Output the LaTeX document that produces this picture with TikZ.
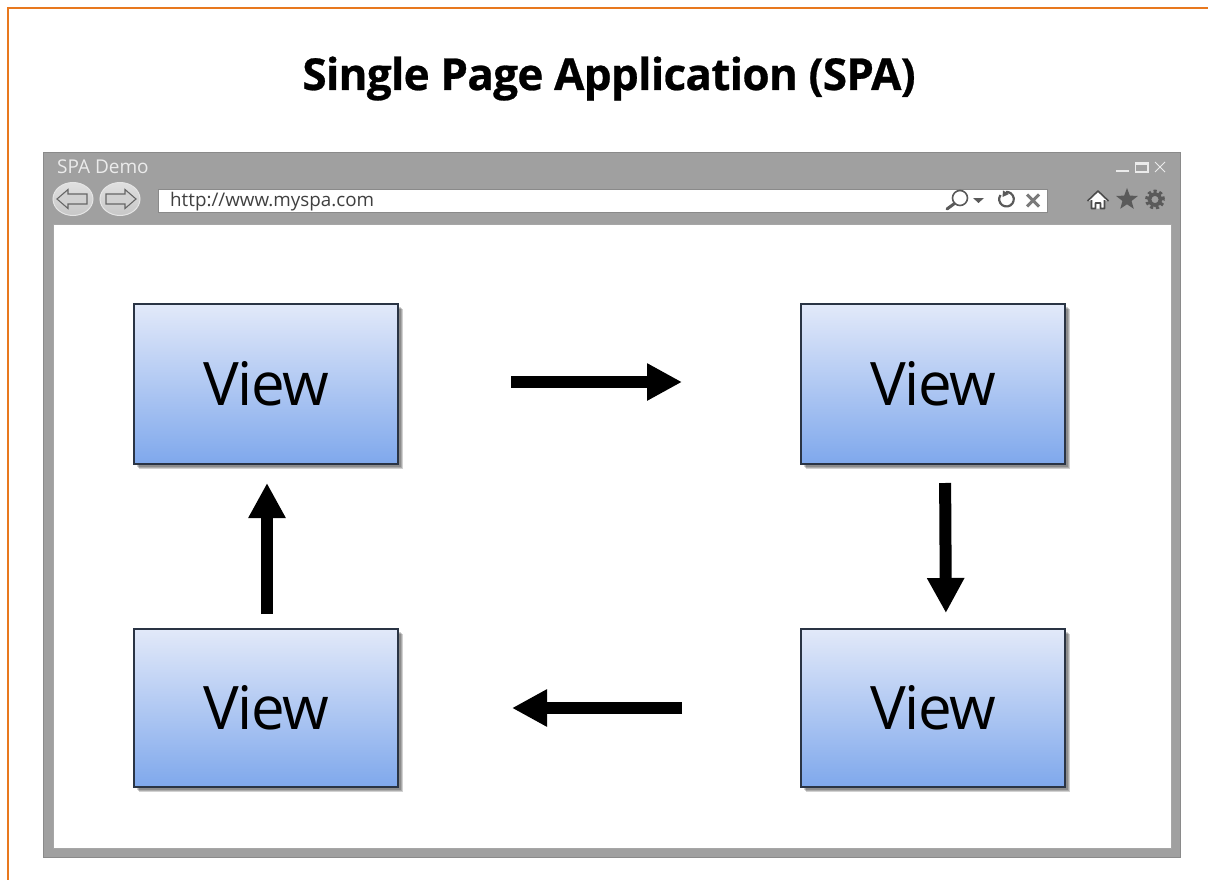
\documentclass[tikz,border=0pt]{standalone}
\usepackage{fontspec}
\setmainfont{Open Sans}
\usetikzlibrary{arrows.meta,shadows,shapes.geometric,calc}
\definecolor{frameorange}{HTML}{E8781E}
\definecolor{wingray}{HTML}{A0A0A0}
\definecolor{winedge}{HTML}{8A8A8A}
\definecolor{boxtop}{HTML}{E2E9F9}
\definecolor{boxbot}{HTML}{7FA8EC}
\definecolor{boxedge}{HTML}{2A3444}
\definecolor{icongray}{HTML}{5A5A5A}
\tikzset{
  softshadow/.style={general shadow={shadow xshift=#1pt,shadow yshift=-#1pt,fill=black,opacity=.18}},
  viewbox/.style={draw=boxedge,line width=1.7pt,outer sep=0pt,top color=boxtop,bottom color=boxbot,
    minimum width=264pt,anchor=north west,inner sep=0pt,text=black,
    font=\fontsize{60}{60}\selectfont\addfontfeature{LetterSpace=-2.5},
    softshadow=4.5,softshadow=3.5,softshadow=2.5},
  flow/.style={line width=12pt,black,-{Triangle[length=35pt,width=35pt]}},
  navbtn/.style={ellipse,minimum width=40pt,minimum height=33pt,inner sep=0pt,draw=white!90!black,line width=1pt,top color=white!88!black,bottom color=white!78!black},
  navarrow/.style={draw=black!60,line width=1.1pt,fill=white!82!black,line join=miter},
  wintext/.style={text=white!92!black,font=\fontsize{19}{19}\selectfont,inner sep=0pt,anchor=base west},
  ctrl/.style={draw=white!92!black,line width=1.6pt},
  tool/.style={draw=icongray,line width=2.6pt}
}
\begin{document}
\begin{tikzpicture}[x=1pt,y=-1pt]
\useasboundingbox (0,0) rectangle (1208,880);
\fill[white] (0,0) rectangle (1208,880);
% orange frame
\draw[frameorange,line width=2.6pt] (8,880) -- (8,8) -- (1208,8);
% title
\node[inner sep=0pt,anchor=base] (title) at (609,90) {\fontsize{44}{44}\selectfont\bfseries\addfontfeature{LetterSpace=-1.6,FakeBold=0.6} Single Page Application (SPA)};
% window
\node[draw=winedge,line width=1pt,fill=wingray,outer sep=0pt,minimum width=1137pt,minimum height=704pt,inner sep=0pt,anchor=north west] (window) at (43,153) {};
\node[draw=white!65!black,line width=1pt,fill=white,outer sep=0pt,minimum width=1118pt,minimum height=624pt,inner sep=0pt,anchor=north west] (content) at (53,224) {};
\node[wintext] (wintitle) at (57,173.5) {SPA Demo};
% nav buttons
\node[navbtn] (back) at (73,199) {};
\node[navbtn] (forward) at (120,199) {};
\draw[navarrow] (57,199) -- (68,189.5) -- (68,194) -- (87,194) -- (87,204) -- (68,204) -- (68,208.5) -- cycle;
\draw[navarrow] (136,199) -- (125,189.5) -- (125,194) -- (106,194) -- (106,204) -- (125,204) -- (125,208.5) -- cycle;
% address bar
\node[fill=white,draw=winedge,line width=.6pt,outer sep=0pt,minimum width=889pt,minimum height=23pt,inner sep=0pt,anchor=north west] (addr) at (158,189) {};
\node[inner sep=0pt,anchor=base west,text=black!75,font=\fontsize{18.8}{18.8}\selectfont] (url) at (170,206) {http://www.myspa.com};
% address-bar icons
\draw[icongray,line width=1.6pt] (960,198) circle (7.5pt);
\draw[icongray,line width=3pt,line cap=round] (954.5,203.5) -- (947,209);
\fill[icongray] (973,198) -- (984,198) -- (978.5,203) -- cycle;
\draw[tool,line width=2.2pt] (1000.5,195) arc (215:-95:7.3);
\fill[icongray] (1003,190.5) -- (1009,194) -- (1002.5,197) -- cycle;
\draw[tool,line width=3pt,draw=icongray!80] (1027,194.5) -- (1039,206.5) (1039,194.5) -- (1027,206.5);
% window controls
\draw[ctrl,line width=2pt] (1116,171.5) -- (1129,171.5);
\draw[ctrl] (1135.5,162.5) rectangle (1148,172);
\fill[white!92!black] (1135.5,162.5) rectangle (1148,165.5);
\draw[ctrl,line width=1pt] (1155,162) -- (1165,172) (1165,162) -- (1155,172);
% tool icons
\fill[white] (1098,191) -- (1108,200.5) -- (1104.5,200.5) -- (1104.5,208.5) -- (1091.5,208.5) -- (1091.5,200.5) -- (1088,200.5) -- cycle;
\draw[black!70,line width=1.6pt,line join=round] (1087.5,201) -- (1098,191) -- (1108.5,201) (1091.5,200) -- (1091.5,208.5) -- (1095.5,208.5) -- (1095.5,203) -- (1100.5,203) -- (1100.5,208.5) -- (1104.5,208.5) -- (1104.5,200);
\node[star,star points=5,star point ratio=2.4,fill=icongray,minimum size=23pt,inner sep=0pt] (staricon) at (1127,199.5) {};
\draw[icongray,line width=3.5pt,dash pattern=on 3pt off 2.6pt] (1155,199.5) circle (8.2pt);
\draw[icongray,line width=3.6pt] (1155,199.5) circle (5.6pt);
% views
\node[viewbox,minimum height=160pt] (v1) at (134,304) {View};
\node[viewbox,minimum height=160pt] (v2) at (801,304) {View};
\node[viewbox,minimum height=158pt] (v3) at (134,629) {View};
\node[viewbox,minimum height=158pt] (v4) at (801,629) {View};
% arrows
\draw[flow,shorten <=113pt,shorten >=119pt] ($(v1.east)-(0,2)$) -- ($(v2.west)-(0,2)$);
\draw[flow,shorten <=19pt,shorten >=16pt] ($(v2.south)+(12,0)$) -- ($(v4.north)+(13,0)$);
\draw[flow,shorten <=119pt,shorten >=114pt] (v4.west) -- (v3.east);
\draw[flow,shorten <=15pt,shorten >=19pt] ($(v3.north)+(1,0)$) -- ($(v1.south)+(1,0)$);
\end{tikzpicture}
\end{document}
